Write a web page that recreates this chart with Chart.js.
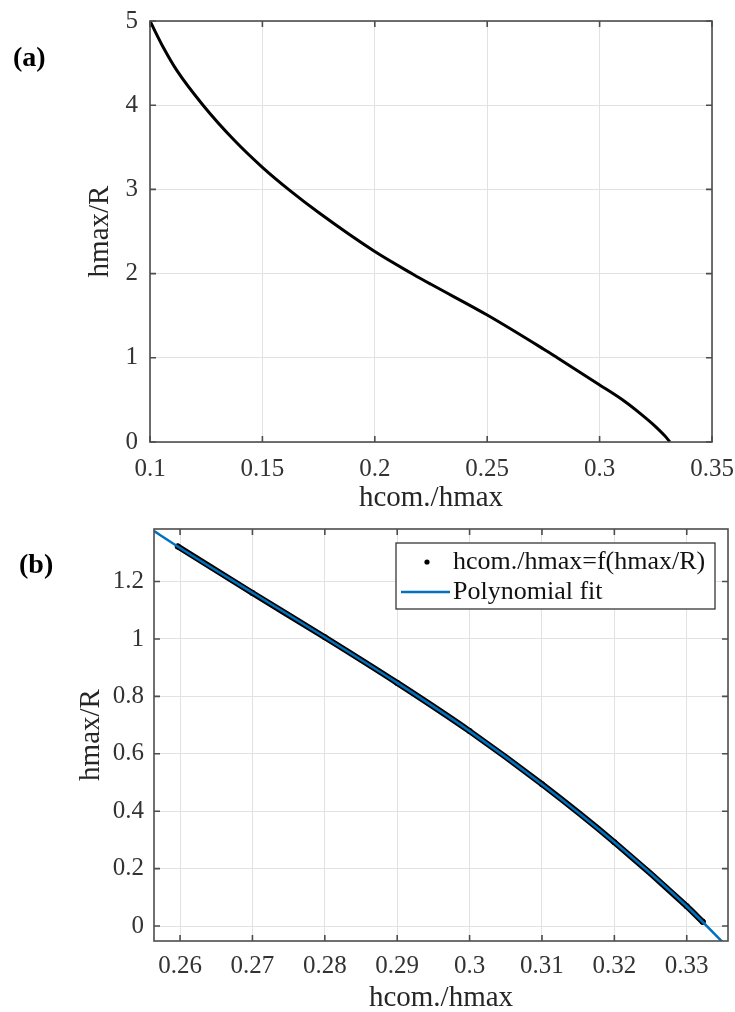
<!DOCTYPE html>
<html>
<head>
<meta charset="utf-8">
<script src="https://cdn.jsdelivr.net/npm/chart.js@4.4.0/dist/chart.umd.min.js"></script>
<style>
  html, body { margin: 0; padding: 0; background: #fff; overflow: hidden; }
  #wrap { position: relative; width: 735px; height: 1012px; }
  canvas { position: absolute; left: 0; top: 0; }
  .panel { position: absolute; font: bold 28px 'Liberation Serif', 'Times New Roman', serif; line-height: 28px; color: #000; }
</style>
</head>
<body>
<div id="wrap">
  <canvas id="chartA" width="735" height="1012"></canvas>
  <canvas id="chartB" width="735" height="1012"></canvas>
  <div class="panel" style="left:13px; top:43px">(a)</div>
  <div class="panel" style="left:19px; top:550px">(b)</div>
</div>
<script>
// panel (a): hmax/R against hcom./hmax
const aX = [0.1, 0.106, 0.112, 0.1236, 0.1375, 0.15, 0.1623, 0.175, 0.2, 0.217, 0.225, 0.25, 0.275, 0.281, 0.2997, 0.31, 0.318, 0.325, 0.329, 0.3313];
const aY = [5.0, 4.682, 4.41, 4.0, 3.583, 3.262, 2.985, 2.725, 2.262, 1.993, 1.873, 1.508, 1.105, 1.004, 0.683, 0.504, 0.34, 0.18, 0.073, 0.0];
const aTicksX = [0.1, 0.15, 0.2, 0.25, 0.3, 0.35];
const aLabelsX = ['0.1', '0.15', '0.2', '0.25', '0.3', '0.35'];
const aTicksY = [0, 1, 2, 3, 4, 5];
const aLabelsY = ['0', '1', '2', '3', '4', '5'];

// panel (b): measured points and polynomial fit
const dotsX = [0.2597, 0.27, 0.28, 0.29, 0.3, 0.31, 0.32, 0.33, 0.3322];
const dotsY = [1.322, 1.16, 1.006, 0.847, 0.679, 0.494, 0.292, 0.069, 0.015];
const fitX = [0.2564, 0.26, 0.27, 0.28, 0.29, 0.3, 0.31, 0.32, 0.33, 0.3357];
const fitY = [1.376, 1.317, 1.161, 1.006, 0.847, 0.679, 0.494, 0.292, 0.069, -0.075];
const bTicksX = [0.26, 0.27, 0.28, 0.29, 0.3, 0.31, 0.32, 0.33];
const bLabelsX = ['0.26', '0.27', '0.28', '0.29', '0.3', '0.31', '0.32', '0.33'];
const bTicksY = [0, 0.2, 0.4, 0.6, 0.8, 1, 1.2];
const bLabelsY = ['0', '0.2', '0.4', '0.6', '0.8', '1', '1.2'];

const fontFamily = "'Liberation Serif', 'Times New Roman', serif";
Chart.defaults.font.family = fontFamily;
Chart.defaults.color = '#333';

const toPoints = (xs, ys) => xs.map((x, i) => ({ x: x, y: ys[i] }));

function makeAxis(min, max, tickValues, tickLabels, title, size, tickPad, titlePad) {
  return {
    type: 'linear',
    min: min,
    max: max,
    afterBuildTicks: s => { s.ticks = tickValues.map(v => ({ value: v })); },
    afterFit: s => {
      if (s.isHorizontal()) s.height = size;
      else s.width = size;
      // plot area is fixed by the layout padding, labels may overhang
      s.paddingLeft = s.paddingRight = s.paddingTop = s.paddingBottom = 0;
    },
    grid: { color: '#e2e2e2', lineWidth: 1, drawTicks: false },
    border: { display: false },
    ticks: {
      autoSkip: false,
      maxRotation: 0,
      padding: tickPad,
      color: '#333',
      font: { size: 25 },
      callback: (v, i) => tickLabels[i],
    },
    title: { display: true, text: title, color: '#262626', font: { size: 29 }, padding: titlePad },
  };
}

// box round the plot area with inward tick marks, like the MATLAB axes
const matlabBox = {
  id: 'matlabBox',
  afterDraw(chart) {
    const { ctx, chartArea: a, scales } = chart;
    const tl = 6;
    ctx.save();
    ctx.strokeStyle = '#4d4d4d';
    ctx.lineWidth = 1.6;
    ctx.strokeRect(a.left, a.top, a.right - a.left, a.bottom - a.top);
    ctx.beginPath();
    scales.x.ticks.forEach(t => {
      const px = scales.x.getPixelForValue(t.value);
      ctx.moveTo(px, a.bottom); ctx.lineTo(px, a.bottom - tl);
      ctx.moveTo(px, a.top); ctx.lineTo(px, a.top + tl);
    });
    scales.y.ticks.forEach(t => {
      const py = scales.y.getPixelForValue(t.value);
      ctx.moveTo(a.left, py); ctx.lineTo(a.left + tl, py);
      ctx.moveTo(a.right, py); ctx.lineTo(a.right - tl, py);
    });
    ctx.stroke();
    ctx.restore();
  }
};

const legendB = {
  id: 'legendB',
  afterDraw(chart) {
    const { ctx, chartArea: a } = chart;
    const ds = chart.data.datasets;
    const left = a.right - 332, right = a.right - 13;
    const top = a.top + 14, bottom = top + 66;
    ctx.save();
    ctx.fillStyle = '#fff';
    ctx.fillRect(left, top, right - left, bottom - top);
    ctx.strokeStyle = '#262626';
    ctx.lineWidth = 1.2;
    ctx.strokeRect(left, top, right - left, bottom - top);

    ctx.beginPath();
    ctx.arc(left + 31, top + 19, 2.6, 0, Math.PI * 2);
    ctx.fillStyle = '#000';
    ctx.fill();

    ctx.strokeStyle = ds[1].borderColor;
    ctx.lineWidth = 2.5;
    ctx.beginPath();
    ctx.moveTo(left + 5, top + 49);
    ctx.lineTo(left + 54, top + 49);
    ctx.stroke();

    ctx.font = '26px ' + fontFamily;
    ctx.textBaseline = 'middle';
    ctx.fillStyle = '#111';
    ctx.fillText(ds[0].label, left + 57, top + 19);
    ctx.fillText(ds[1].label, left + 57, top + 49);
    ctx.restore();
  }
};

new Chart(document.getElementById('chartA'), {
  type: 'line',
  data: {
    datasets: [{
      label: 'hmax/R',
      data: toPoints(aX, aY),
      borderColor: '#000',
      borderWidth: 3,
      pointRadius: 0,
      cubicInterpolationMode: 'monotone',
      fill: false,
    }],
  },
  options: {
    responsive: false,
    animation: false,
    layout: { padding: { left: 83, right: 23, top: 21, bottom: 496 } },
    plugins: { legend: { display: false }, tooltip: { enabled: false } },
    scales: {
      x: makeAxis(0.1, 0.35, aTicksX, aLabelsX, 'hcom./hmax', 74, 12, { top: 0, bottom: 0 }),
      y: makeAxis(0, 5, aTicksY, aLabelsY, 'hmax/R', 67, 12, { top: 0, bottom: 0 }),
    },
  },
  plugins: [matlabBox],
});

new Chart(document.getElementById('chartB'), {
  type: 'line',
  data: {
    datasets: [
      {
        label: 'hcom./hmax=f(hmax/R)',
        data: toPoints(dotsX, dotsY),
        borderColor: '#000',
        backgroundColor: '#000',
        borderWidth: 6,
        borderCapStyle: 'round',
        pointRadius: 3,
        pointBorderWidth: 0,
        cubicInterpolationMode: 'monotone',
        clip: 0,
        order: 1,
      },
      {
        label: 'Polynomial fit',
        data: toPoints(fitX, fitY),
        borderColor: '#0072BD',
        borderWidth: 2.5,
        pointRadius: 0,
        cubicInterpolationMode: 'monotone',
        clip: 0,
        order: 0,
      },
    ],
  },
  options: {
    responsive: false,
    animation: false,
    layout: { padding: { left: 74, right: 7, top: 529, bottom: 0 } },
    plugins: { legend: { display: false }, tooltip: { enabled: false } },
    scales: {
      x: makeAxis(0.2564, 0.3357, bTicksX, bLabelsX, 'hcom./hmax', 71, 10, { top: 0, bottom: -4 }),
      y: makeAxis(-0.052, 1.383, bTicksY, bLabelsY, 'hmax/R', 80, 10, { top: 0, bottom: 0 }),
    },
  },
  plugins: [matlabBox, legendB],
});
</script>
</body>
</html>
